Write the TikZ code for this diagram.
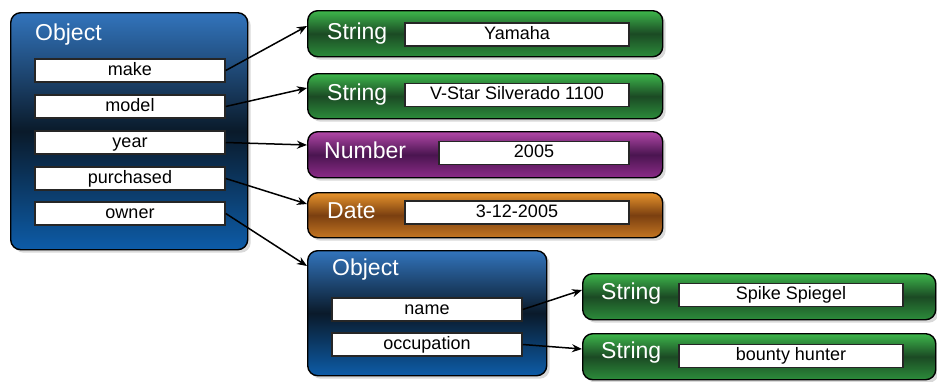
\documentclass[tikz,border=0pt]{standalone}
\usepackage{fontspec}
\setmainfont{Liberation Sans}
\usepackage{tikz}
\usetikzlibrary{arrows.meta,shadows}
\definecolor{objtop}{HTML}{3274BC}
\definecolor{objmid}{HTML}{0A1A2A}
\definecolor{objbot}{HTML}{0D5CA8}
\definecolor{strtop}{HTML}{3DB64B}
\definecolor{strmid}{HTML}{1B4A24}
\definecolor{strbot}{HTML}{2C8C3B}
\definecolor{numtop}{HTML}{B248A8}
\definecolor{nummid}{HTML}{4A1550}
\definecolor{numbot}{HTML}{8C2C88}
\definecolor{dattop}{HTML}{E8942C}
\definecolor{datmid}{HTML}{7A3F10}
\definecolor{datbot}{HTML}{C47622}

\begin{document}
\begin{tikzpicture}[x=1pt,y=-1pt,
  box/.style={draw=black,line width=1.4pt,rounded corners=10pt,anchor=north west,inner sep=0pt,
    drop shadow={shadow xshift=3pt,shadow yshift=-3pt,opacity=.3}},
  objbox/.style={box,top color=objtop,bottom color=objbot,middle color=objmid},
  strbox/.style={box,minimum width=355pt,minimum height=46pt,top color=strtop,bottom color=strbot,middle color=strmid},
  numbox/.style={box,minimum width=355pt,minimum height=46pt,top color=numtop,bottom color=numbot,middle color=nummid},
  datbox/.style={box,minimum width=355pt,minimum height=46pt,top color=dattop,bottom color=datbot,middle color=datmid},
  field/.style={draw=black!85,line width=1.5pt,fill=white,inner sep=0pt,minimum width=190pt,minimum height=23pt,
    text height=13pt,text depth=4pt,font=\fontsize{18pt}{20pt}\selectfont},
  kind/.style={anchor=base west,text=white,inner sep=0pt,font=\fontsize{23pt}{26pt}\selectfont},
  link/.style={-{Stealth[length=10pt,width=8pt]},line width=1.5pt}]
\useasboundingbox (0,0) rectangle (937,381);
% car object
\node[objbox,minimum width=237pt,minimum height=237pt] (obj) at (10,12) {};
\node[kind] (objL) at (35,40) {Object};
\node[field] (make) at (130,70.5) {make};
\node[field] (model) at (130,106.5) {model};
\node[field] (year) at (130,142.5) {year};
\node[field] (purchased) at (130,178.5) {purchased};
\node[field] (owner) at (130,213.5) {owner};
% values
\node[strbox] (strA) at (307,10) {};
\node[kind] (strAL) at (327,39) {String};
\node[field,minimum width=224pt] (valA) at (517,34.5) {Yamaha};
\node[strbox,minimum height=45pt] (strB) at (307,73) {};
\node[kind] (strBL) at (327,100) {String};
\node[field,minimum width=224pt] (valB) at (517,95) {V-Star Silverado 1100};
\node[numbox] (num) at (307,131) {};
\node[kind] (numL) at (324,158) {Number};
\node[field] (valN) at (534,153) {2005};
\node[datbox,minimum height=45pt] (date) at (307,192) {};
\node[kind] (dateL) at (327,218) {Date};
\node[field,minimum width=224pt] (valD) at (517,212.5) {3-12-2005};
% owner object
\node[objbox,minimum width=239pt,minimum height=125pt] (own) at (307,250) {};
\node[kind] (ownL) at (332,275) {Object};
\node[field] (name) at (427,309.5) {name};
\node[field] (occupation) at (427,344.5) {occupation};
\node[strbox,minimum width=353pt] (strC) at (582,273) {};
\node[kind] (strCL) at (601,299) {String};
\node[field,minimum width=224pt] (valC) at (791,295) {Spike Spiegel};
\node[strbox,minimum width=353pt] (strD) at (582,333) {};
\node[kind] (strDL) at (601,358) {String};
\node[field,minimum width=224pt] (valE) at (791,356) {bounty hunter};
% links
\draw[link] (make.east) -- ([yshift=-16pt]strA.north west);
\draw[link] (model.east) -- ([yshift=-15pt]strB.north west);
\draw[link] (year.east) -- ([yshift=-14pt]num.north west);
\draw[link] (purchased.east) -- ([yshift=-12pt]date.north west);
\draw[link] (owner.east) -- ([yshift=-16pt]own.north west);
\draw[link] (name.east) -- ([yshift=-17pt]strC.north west);
\draw[link] (occupation.east) -- ([yshift=-16pt]strD.north west);
\end{tikzpicture}
\end{document}
